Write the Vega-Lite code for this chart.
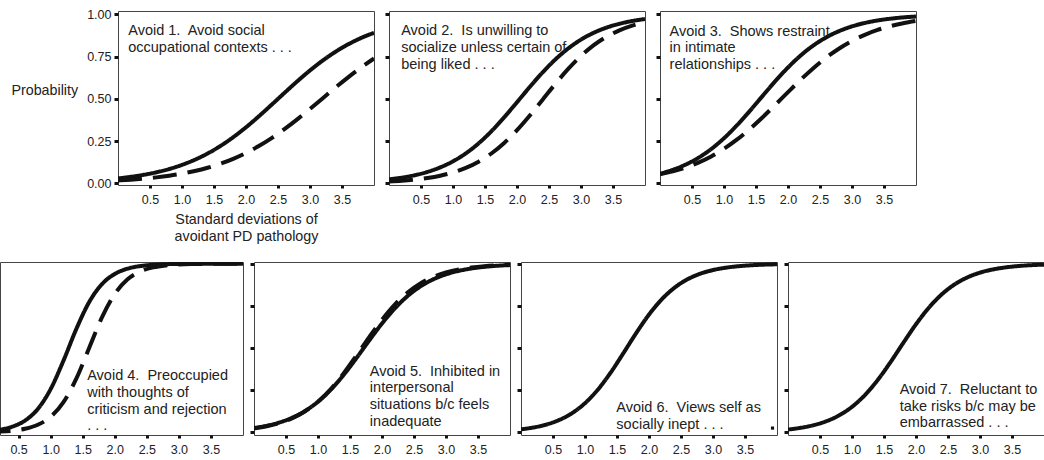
{
 "$schema": "https://vega.github.io/schema/vega-lite/v6.json",
 "padding": {"left": -1, "top": 7, "right": 0, "bottom": 0},
 "background": "white",
 "config": {
  "font": "Liberation Sans",
  "view": {"stroke": "#444", "strokeWidth": 1},
  "axis": {"domain": false, "grid": false, "tickColor": "#111", "tickWidth": 3, "tickSize": 4, "labelFontSize": 12.5, "labelColor": "#222", "titleFontWeight": "normal", "titleColor": "#222", "titleFontSize": 14.3}
 },
 "datasets": {
  "curves": [
   {"panel":1,"x":0,"solid":0.0293,"dashed":0.0166},{"panel":1,"x":0.2,"solid":0.0385,"dashed":0.0214},{"panel":1,"x":0.4,"solid":0.0502,"dashed":0.0274},{"panel":1,"x":0.6,"solid":0.0654,"dashed":0.0352},{"panel":1,"x":0.8,"solid":0.0847,"dashed":0.045},{"panel":1,"x":1.0,"solid":0.1091,"dashed":0.0573},{"panel":1,"x":1.2,"solid":0.1394,"dashed":0.0728},{"panel":1,"x":1.4,"solid":0.1765,"dashed":0.0921},{"panel":1,"x":1.6,"solid":0.221,"dashed":0.1159},{"panel":1,"x":1.8,"solid":0.2729,"dashed":0.1448},{"panel":1,"x":2.0,"solid":0.3318,"dashed":0.1795},{"panel":1,"x":2.2,"solid":0.3965,"dashed":0.2203},{"panel":1,"x":2.4,"solid":0.4651,"dashed":0.2674},{"panel":1,"x":2.6,"solid":0.5349,"dashed":0.3204},{"panel":1,"x":2.8,"solid":0.6035,"dashed":0.3785},{"panel":1,"x":3.0,"solid":0.6682,"dashed":0.4403},{"panel":1,"x":3.2,"solid":0.7271,"dashed":0.504},{"panel":1,"x":3.4,"solid":0.779,"dashed":0.5676},{"panel":1,"x":3.6,"solid":0.8235,"dashed":0.629},{"panel":1,"x":3.8,"solid":0.8606,"dashed":0.6865},{"panel":1,"x":4.0,"solid":0.8909,"dashed":0.7388},
   {"panel":2,"x":0,"solid":0.0237,"dashed":0.0102},{"panel":2,"x":0.2,"solid":0.0337,"dashed":0.0148},{"panel":2,"x":0.4,"solid":0.0478,"dashed":0.0215},{"panel":2,"x":0.6,"solid":0.0673,"dashed":0.0311},{"panel":2,"x":0.8,"solid":0.0942,"dashed":0.0448},{"panel":2,"x":1.0,"solid":0.1301,"dashed":0.0642},{"panel":2,"x":1.2,"solid":0.1771,"dashed":0.0911},{"panel":2,"x":1.4,"solid":0.2365,"dashed":0.1279},{"panel":2,"x":1.6,"solid":0.3083,"dashed":0.1765},{"panel":2,"x":1.8,"solid":0.3908,"dashed":0.2387},{"panel":2,"x":2.0,"solid":0.48,"dashed":0.3143},{"panel":2,"x":2.2,"solid":0.5705,"dashed":0.4013},{"panel":2,"x":2.4,"solid":0.6566,"dashed":0.495},{"panel":2,"x":2.6,"solid":0.7334,"dashed":0.589},{"panel":2,"x":2.8,"solid":0.7983,"dashed":0.677},{"panel":2,"x":3.0,"solid":0.8507,"dashed":0.754},{"panel":2,"x":3.2,"solid":0.8913,"dashed":0.8176},{"panel":2,"x":3.4,"solid":0.9219,"dashed":0.8676},{"panel":2,"x":3.6,"solid":0.9444,"dashed":0.9055},{"panel":2,"x":3.8,"solid":0.9607,"dashed":0.9334},{"panel":2,"x":4.0,"solid":0.9724,"dashed":0.9535},
   {"panel":3,"x":0,"solid":0.0573,"dashed":0.0532},{"panel":3,"x":0.2,"solid":0.08,"dashed":0.0707},{"panel":3,"x":0.4,"solid":0.1107,"dashed":0.0935},{"panel":3,"x":0.6,"solid":0.1511,"dashed":0.1226},{"panel":3,"x":0.8,"solid":0.2029,"dashed":0.1592},{"panel":3,"x":1.0,"solid":0.267,"dashed":0.2042},{"panel":3,"x":1.2,"solid":0.3426,"dashed":0.2581},{"panel":3,"x":1.4,"solid":0.427,"dashed":0.3204},{"panel":3,"x":1.6,"solid":0.516,"dashed":0.3898},{"panel":3,"x":1.8,"solid":0.604,"dashed":0.4641},{"panel":3,"x":2.0,"solid":0.6857,"dashed":0.5399},{"panel":3,"x":2.2,"solid":0.7574,"dashed":0.614},{"panel":3,"x":2.4,"solid":0.817,"dashed":0.6831},{"panel":3,"x":2.6,"solid":0.8646,"dashed":0.745},{"panel":3,"x":2.8,"solid":0.9013,"dashed":0.7983},{"panel":3,"x":3.0,"solid":0.9289,"dashed":0.8429},{"panel":3,"x":3.2,"solid":0.9492,"dashed":0.8791},{"panel":3,"x":3.4,"solid":0.964,"dashed":0.9079},{"panel":3,"x":3.6,"solid":0.9745,"dashed":0.9303},{"panel":3,"x":3.8,"solid":0.9821,"dashed":0.9476},{"panel":3,"x":4.0,"solid":0.9874,"dashed":0.9608},
   {"panel":4,"x":0,"solid":0.0077,"dashed":0.0023},{"panel":4,"x":0.2,"solid":0.0163,"dashed":0.0049},{"panel":4,"x":0.4,"solid":0.0342,"dashed":0.0104},{"panel":4,"x":0.6,"solid":0.0704,"dashed":0.0219},{"panel":4,"x":0.8,"solid":0.1394,"dashed":0.0457},{"panel":4,"x":1.0,"solid":0.2573,"dashed":0.0928},{"panel":4,"x":1.2,"solid":0.4256,"dashed":0.1795},{"panel":4,"x":1.4,"solid":0.613,"dashed":0.3186},{"panel":4,"x":1.6,"solid":0.7721,"dashed":0.5},{"panel":4,"x":1.8,"solid":0.8787,"dashed":0.6814},{"panel":4,"x":2.0,"solid":0.9393,"dashed":0.8205},{"panel":4,"x":2.2,"solid":0.9707,"dashed":0.9072},{"panel":4,"x":2.4,"solid":0.9861,"dashed":0.9543},{"panel":4,"x":2.6,"solid":0.9934,"dashed":0.9781},{"panel":4,"x":2.8,"solid":0.9969,"dashed":0.9896},{"panel":4,"x":3.0,"solid":0.9986,"dashed":0.9951},{"panel":4,"x":3.2,"solid":0.9993,"dashed":0.9977},{"panel":4,"x":3.4,"solid":0.9997,"dashed":0.9989},{"panel":4,"x":3.6,"solid":0.9999,"dashed":0.9995},{"panel":4,"x":3.8,"solid":0.9999,"dashed":0.9998},{"panel":4,"x":4.0,"solid":1.0,"dashed":0.9999},
   {"panel":5,"x":0,"solid":0.0266,"dashed":0.0241},{"panel":5,"x":0.2,"solid":0.0399,"dashed":0.037},{"panel":5,"x":0.4,"solid":0.0595,"dashed":0.0562},{"panel":5,"x":0.6,"solid":0.0879,"dashed":0.0847},{"panel":5,"x":0.8,"solid":0.1279,"dashed":0.1256},{"panel":5,"x":1.0,"solid":0.1824,"dashed":0.1824},{"panel":5,"x":1.2,"solid":0.2535,"dashed":0.2573},{"panel":5,"x":1.4,"solid":0.3407,"dashed":0.3498},{"panel":5,"x":1.6,"solid":0.4403,"dashed":0.4551},{"panel":5,"x":1.8,"solid":0.5449,"dashed":0.5646},{"panel":5,"x":2.0,"solid":0.6457,"dashed":0.6682},{"panel":5,"x":2.2,"solid":0.735,"dashed":0.7577},{"panel":5,"x":2.4,"solid":0.8085,"dashed":0.8292},{"panel":5,"x":2.6,"solid":0.8653,"dashed":0.8829},{"panel":5,"x":2.8,"solid":0.9072,"dashed":0.9213},{"panel":5,"x":3.0,"solid":0.937,"dashed":0.9479},{"panel":5,"x":3.2,"solid":0.9577,"dashed":0.9658},{"panel":5,"x":3.4,"solid":0.9718,"dashed":0.9777},{"panel":5,"x":3.6,"solid":0.9813,"dashed":0.9855},{"panel":5,"x":3.8,"solid":0.9877,"dashed":0.9906},{"panel":5,"x":4.0,"solid":0.9918,"dashed":0.9939},
   {"panel":6,"x":0,"solid":0.0187},{"panel":6,"x":0.2,"solid":0.0299},{"panel":6,"x":0.4,"solid":0.0474},{"panel":6,"x":0.6,"solid":0.0744},{"panel":6,"x":0.8,"solid":0.1151},{"panel":6,"x":1.0,"solid":0.1736},{"panel":6,"x":1.2,"solid":0.2535},{"panel":6,"x":1.4,"solid":0.3543},{"panel":6,"x":1.6,"solid":0.47},{"panel":6,"x":1.8,"solid":0.589},{"panel":6,"x":2.0,"solid":0.6985},{"panel":6,"x":2.2,"solid":0.7892},{"panel":6,"x":2.4,"solid":0.8581},{"panel":6,"x":2.6,"solid":0.9072},{"panel":6,"x":2.8,"solid":0.9405},{"panel":6,"x":3.0,"solid":0.9623},{"panel":6,"x":3.2,"solid":0.9763},{"panel":6,"x":3.4,"solid":0.9852},{"panel":6,"x":3.6,"solid":0.9908},{"panel":6,"x":3.8,"solid":0.9943},{"panel":6,"x":4.0,"solid":0.9965},
   {"panel":7,"x":0,"solid":0.0176},{"panel":7,"x":0.2,"solid":0.0277},{"panel":7,"x":0.4,"solid":0.0431},{"panel":7,"x":0.6,"solid":0.0666},{"panel":7,"x":0.8,"solid":0.1016},{"panel":7,"x":1.0,"solid":0.1519},{"panel":7,"x":1.2,"solid":0.221},{"panel":7,"x":1.4,"solid":0.31},{"panel":7,"x":1.6,"solid":0.4158},{"panel":7,"x":1.8,"solid":0.53},{"panel":7,"x":2.0,"solid":0.6411},{"panel":7,"x":2.2,"solid":0.7388},{"panel":7,"x":2.4,"solid":0.8176},{"panel":7,"x":2.6,"solid":0.8765},{"panel":7,"x":2.8,"solid":0.9184},{"panel":7,"x":3.0,"solid":0.9469},{"panel":7,"x":3.2,"solid":0.9658},{"panel":7,"x":3.4,"solid":0.9781},{"panel":7,"x":3.6,"solid":0.9861},{"panel":7,"x":3.8,"solid":0.9912},{"panel":7,"x":4.0,"solid":0.9944}
  ],
  "labels": [
   {"panel":1,"label":["Avoid 1.\u00a0 Avoid social","occupational contexts . . ."]},
   {"panel":2,"label":["Avoid 2.\u00a0 Is unwilling to","socialize unless certain of","being liked . . ."]},
   {"panel":3,"label":["Avoid 3.\u00a0 Shows restraint","in intimate","relationships . . ."]},
   {"panel":4,"label":["Avoid 4.\u00a0 Preoccupied","with thoughts of","criticism and rejection",". . ."]},
   {"panel":5,"label":["Avoid 5.\u00a0 Inhibited in","interpersonal","situations b/c feels","inadequate"]},
   {"panel":6,"label":["Avoid 6.\u00a0 Views self as","socially inept . . ."]},
   {"panel":7,"label":["Avoid 7.\u00a0 Reluctant to","take risks b/c may be","embarrassed . . ."]}
  ],
  "dots": [{"panel":6,"x":3.93,"p":0.026}]
 },
 "spacing": 16,
 "vconcat": [
  {"spacing": 8, "hconcat": [
   {"width": 2, "height": 1, "view": {"stroke": null}, "data": {"values": []}, "mark": "point"},
   {"width": 256, "height": 174, "layer": [
    {"data": {"name": "curves"}, "transform": [{"filter": "datum.panel == 1"}, {"fold": ["solid", "dashed"], "as": ["series", "p"]}, {"filter": "isValid(datum.p)"}],
     "mark": {"type": "line", "interpolate": "monotone", "strokeWidth": 4, "color": "#111", "clip": true},
     "encoding": {
      "x": {"field": "x", "type": "quantitative", "scale": {"domain": [0, 4], "nice": false, "zero": false}, "axis": {"values": [0.5,1,1.5,2,2.5,3,3.5], "format": ".1f", "labelPadding": 5, "tickSize": 3, "title": ["Standard deviations of", "avoidant PD pathology"], "titleLineHeight": 17, "titlePadding": 7}},
      "y": {"field": "p", "type": "quantitative", "scale": {"domain": [-0.01, 1.02], "nice": false, "zero": false}, "axis": {"values": [0,0.25,0.5,0.75,1], "format": ".2f", "labelPadding": 3, "title": "Probability", "titleAngle": 0, "titleAlign": "right", "titleBaseline": "middle", "titlePadding": 9, "titleY": 79}},
      "strokeDash": {"field": "series", "type": "nominal", "scale": {"domain": ["solid", "dashed"], "range": [[1, 0], [24, 11]]}, "legend": null}
     }},
    {"data": {"name": "labels"}, "transform": [{"filter": "datum.panel == 1"}],
     "mark": {"type": "text", "align": "left", "baseline": "alphabetic", "fontSize": 14.5, "lineHeight": 16.5, "color": "#222"},
     "encoding": {"x": {"datum": 0.16, "type": "quantitative"}, "y": {"datum": 0.876, "type": "quantitative"}, "text": {"field": "label"}}}
   ]},
   {"width": 256, "height": 174, "layer": [
    {"data": {"name": "curves"}, "transform": [{"filter": "datum.panel == 2"}, {"fold": ["solid", "dashed"], "as": ["series", "p"]}, {"filter": "isValid(datum.p)"}],
     "mark": {"type": "line", "interpolate": "monotone", "strokeWidth": 4, "color": "#111", "clip": true},
     "encoding": {
      "x": {"field": "x", "type": "quantitative", "scale": {"domain": [0, 4], "nice": false, "zero": false}, "axis": {"values": [0.5,1,1.5,2,2.5,3,3.5], "format": ".1f", "labelPadding": 5, "tickSize": 3, "title": null}},
      "y": {"field": "p", "type": "quantitative", "scale": {"domain": [-0.01, 1.02], "nice": false, "zero": false}, "axis": {"values": [0,0.25,0.5,0.75,1], "labels": false, "title": null}},
      "strokeDash": {"field": "series", "type": "nominal", "scale": {"domain": ["solid", "dashed"], "range": [[1, 0], [24, 11]]}, "legend": null}
     }},
    {"data": {"name": "labels"}, "transform": [{"filter": "datum.panel == 2"}],
     "mark": {"type": "text", "align": "left", "baseline": "alphabetic", "fontSize": 14.5, "lineHeight": 16.8, "color": "#222"},
     "encoding": {"x": {"datum": 0.19, "type": "quantitative"}, "y": {"datum": 0.878, "type": "quantitative"}, "text": {"field": "label"}}}
   ]},
   {"width": 256, "height": 174, "layer": [
    {"data": {"name": "curves"}, "transform": [{"filter": "datum.panel == 3"}, {"fold": ["solid", "dashed"], "as": ["series", "p"]}, {"filter": "isValid(datum.p)"}],
     "mark": {"type": "line", "interpolate": "monotone", "strokeWidth": 4, "color": "#111", "clip": true},
     "encoding": {
      "x": {"field": "x", "type": "quantitative", "scale": {"domain": [0, 4], "nice": false, "zero": false}, "axis": {"values": [0.5,1,1.5,2,2.5,3,3.5], "format": ".1f", "labelPadding": 5, "tickSize": 3, "title": null}},
      "y": {"field": "p", "type": "quantitative", "scale": {"domain": [-0.01, 1.02], "nice": false, "zero": false}, "axis": {"values": [0,0.25,0.5,0.75,1], "labels": false, "title": null}},
      "strokeDash": {"field": "series", "type": "nominal", "scale": {"domain": ["solid", "dashed"], "range": [[1, 0], [24, 11]]}, "legend": null}
     }},
    {"data": {"name": "labels"}, "transform": [{"filter": "datum.panel == 3"}],
     "mark": {"type": "text", "align": "left", "baseline": "alphabetic", "fontSize": 14.5, "lineHeight": 16.5, "color": "#222"},
     "encoding": {"x": {"datum": 0.15, "type": "quantitative"}, "y": {"datum": 0.874, "type": "quantitative"}, "text": {"field": "label"}}}
   ]}
  ]},
  {"spacing": 4, "hconcat": [
   {"width": 243, "height": 173, "layer": [
    {"data": {"name": "curves"}, "transform": [{"filter": "datum.panel == 4"}, {"fold": ["solid", "dashed"], "as": ["series", "p"]}, {"filter": "isValid(datum.p)"}],
     "mark": {"type": "line", "interpolate": "monotone", "strokeWidth": 4, "color": "#111", "clip": true},
     "encoding": {
      "x": {"field": "x", "type": "quantitative", "scale": {"domain": [0.21, 4], "nice": false, "zero": false}, "axis": {"values": [0.5,1,1.5,2,2.5,3,3.5], "format": ".1f", "labelPadding": 5, "tickSize": 3, "title": null}},
      "y": {"field": "p", "type": "quantitative", "scale": {"domain": [-0.015, 1.01], "nice": false, "zero": false}, "axis": null},
      "strokeDash": {"field": "series", "type": "nominal", "scale": {"domain": ["solid", "dashed"], "range": [[1, 0], [24, 11]]}, "legend": null}
     }},
    {"data": {"name": "labels"}, "transform": [{"filter": "datum.panel == 4"}],
     "mark": {"type": "text", "align": "left", "baseline": "alphabetic", "fontSize": 14.5, "lineHeight": 16.8, "color": "#222"},
     "encoding": {"x": {"datum": 1.57, "type": "quantitative"}, "y": {"datum": 0.311, "type": "quantitative"}, "text": {"field": "label"}}}
   ]},
   {"width": 256, "height": 173, "layer": [
    {"data": {"name": "curves"}, "transform": [{"filter": "datum.panel == 5"}, {"fold": ["solid", "dashed"], "as": ["series", "p"]}, {"filter": "isValid(datum.p)"}],
     "mark": {"type": "line", "interpolate": "monotone", "strokeWidth": 4, "color": "#111", "clip": true},
     "encoding": {
      "x": {"field": "x", "type": "quantitative", "scale": {"domain": [0, 4], "nice": false, "zero": false}, "axis": {"values": [0.5,1,1.5,2,2.5,3,3.5], "format": ".1f", "labelPadding": 5, "tickSize": 3, "title": null}},
      "y": {"field": "p", "type": "quantitative", "scale": {"domain": [-0.015, 1.01], "nice": false, "zero": false}, "axis": {"values": [0,0.25,0.5,0.75,1], "labels": false, "title": null}},
      "strokeDash": {"field": "series", "type": "nominal", "scale": {"domain": ["solid", "dashed"], "range": [[1, 0], [24, 11]]}, "legend": null}
     }},
    {"data": {"name": "labels"}, "transform": [{"filter": "datum.panel == 5"}],
     "mark": {"type": "text", "align": "left", "baseline": "alphabetic", "fontSize": 14.5, "lineHeight": 16.8, "color": "#222"},
     "encoding": {"x": {"datum": 1.81, "type": "quantitative"}, "y": {"datum": 0.337, "type": "quantitative"}, "text": {"field": "label"}}}
   ]},
   {"width": 256, "height": 173, "layer": [
    {"data": {"name": "curves"}, "transform": [{"filter": "datum.panel == 6"}, {"fold": ["solid", "dashed"], "as": ["series", "p"]}, {"filter": "isValid(datum.p)"}],
     "mark": {"type": "line", "interpolate": "monotone", "strokeWidth": 4, "color": "#111", "clip": true},
     "encoding": {
      "x": {"field": "x", "type": "quantitative", "scale": {"domain": [0, 4], "nice": false, "zero": false}, "axis": {"values": [0.5,1,1.5,2,2.5,3,3.5], "format": ".1f", "labelPadding": 5, "tickSize": 3, "title": null}},
      "y": {"field": "p", "type": "quantitative", "scale": {"domain": [-0.015, 1.01], "nice": false, "zero": false}, "axis": {"values": [0,0.25,0.5,0.75,1], "labels": false, "title": null}},
      "strokeDash": {"field": "series", "type": "nominal", "scale": {"domain": ["solid", "dashed"], "range": [[1, 0], [24, 11]]}, "legend": null}
     }},
    {"data": {"name": "dots"}, "transform": [{"filter": "datum.panel == 6"}],
     "mark": {"type": "square", "size": 10, "filled": true, "color": "#111", "opacity": 1},
     "encoding": {"x": {"field": "x", "type": "quantitative"}, "y": {"field": "p", "type": "quantitative"}}},
    {"data": {"name": "labels"}, "transform": [{"filter": "datum.panel == 6"}],
     "mark": {"type": "text", "align": "left", "baseline": "alphabetic", "fontSize": 14.5, "lineHeight": 16.6, "color": "#222"},
     "encoding": {"x": {"datum": 1.49, "type": "quantitative"}, "y": {"datum": 0.119, "type": "quantitative"}, "text": {"field": "label"}}}
   ]},
   {"width": 256, "height": 173, "layer": [
    {"data": {"name": "curves"}, "transform": [{"filter": "datum.panel == 7"}, {"fold": ["solid", "dashed"], "as": ["series", "p"]}, {"filter": "isValid(datum.p)"}],
     "mark": {"type": "line", "interpolate": "monotone", "strokeWidth": 4, "color": "#111", "clip": true},
     "encoding": {
      "x": {"field": "x", "type": "quantitative", "scale": {"domain": [0, 4], "nice": false, "zero": false}, "axis": {"values": [0.5,1,1.5,2,2.5,3,3.5], "format": ".1f", "labelPadding": 5, "tickSize": 3, "title": null}},
      "y": {"field": "p", "type": "quantitative", "scale": {"domain": [-0.015, 1.01], "nice": false, "zero": false}, "axis": {"values": [0,0.25,0.5,0.75,1], "labels": false, "title": null}},
      "strokeDash": {"field": "series", "type": "nominal", "scale": {"domain": ["solid", "dashed"], "range": [[1, 0], [24, 11]]}, "legend": null}
     }},
    {"data": {"name": "labels"}, "transform": [{"filter": "datum.panel == 7"}],
     "mark": {"type": "text", "align": "left", "baseline": "alphabetic", "fontSize": 14.5, "lineHeight": 16.6, "color": "#222"},
     "encoding": {"x": {"datum": 1.745, "type": "quantitative"}, "y": {"datum": 0.228, "type": "quantitative"}, "text": {"field": "label"}}}
   ]}
  ]}
 ]
}
